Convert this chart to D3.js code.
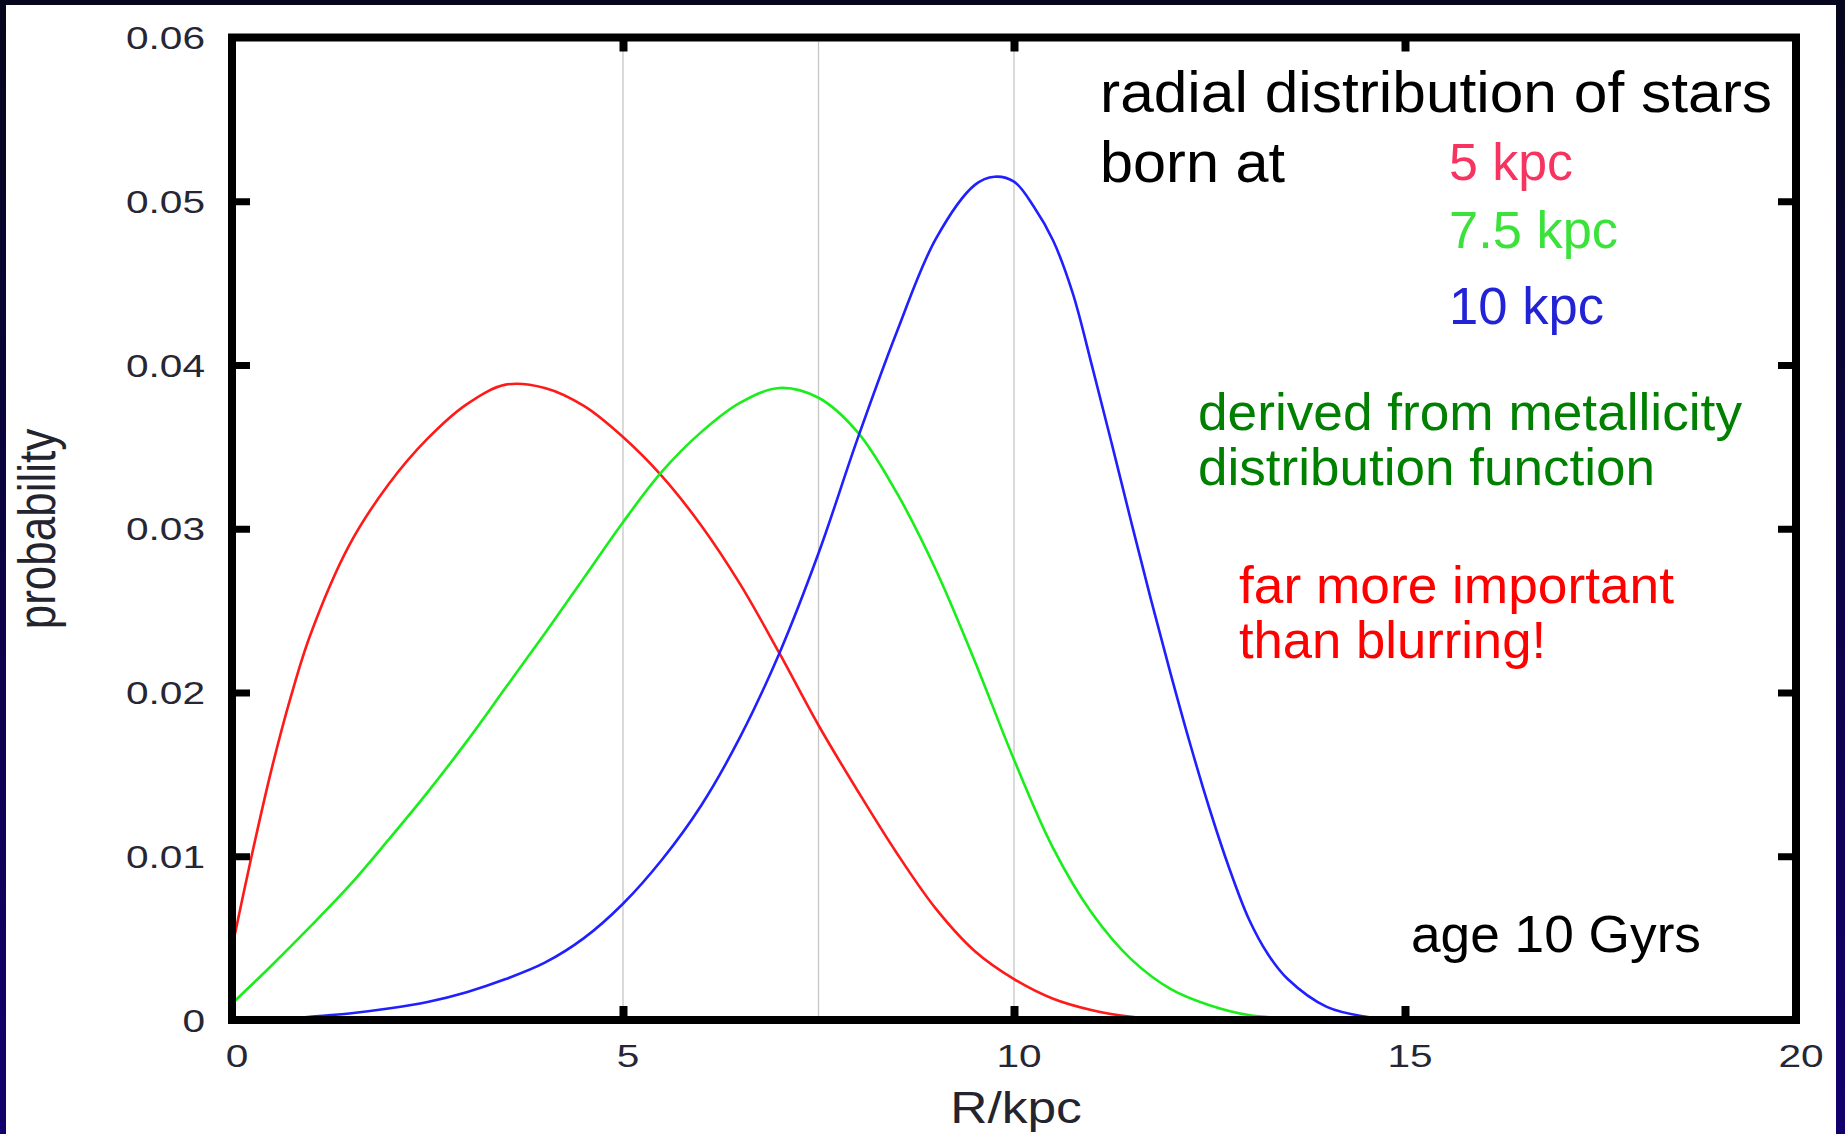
<!DOCTYPE html>
<html>
<head>
<meta charset="utf-8">
<script src="https://cdn.jsdelivr.net/npm/d3@7"></script>
<style>
  html, body { margin: 0; padding: 0; background: #ffffff; }
  svg { display: block; }
  text { font-family: "Liberation Sans", Arial, sans-serif; }
</style>
</head>
<body>
<svg id="chart" width="1845" height="1134"></svg>
<script>
// Radial distribution (probability per kpc) of stars born at 5, 7.5 and 10 kpc, age 10 Gyr
const redR   = [0, 0.25, 0.5, 0.75, 1, 1.5, 2, 2.5, 3, 3.5, 4, 4.5, 5, 5.5, 6, 6.5, 7, 7.5, 8, 8.5, 9, 9.5, 10, 10.5, 11, 11.5, 12, 12.5, 13];
const redP   = [0.0044, 0.0100, 0.0152, 0.0197, 0.0235, 0.0290, 0.0327, 0.0355, 0.0376, 0.0388, 0.0386, 0.0375, 0.0356, 0.0332, 0.0302, 0.0266, 0.0224, 0.0180, 0.0140, 0.0102, 0.0068, 0.0042, 0.0025, 0.0013, 0.0006, 0.0002, 0.00005, 0, 0];

const greenR = [0, 0.5, 1, 1.5, 2, 2.5, 3, 3.5, 4, 4.5, 5, 5.5, 6, 6.5, 7, 7.5, 8, 8.5, 9, 9.5, 10, 10.5, 11, 11.5, 12, 12.5, 13, 13.5, 14];
const greenP = [0.0010, 0.0033, 0.0057, 0.0082, 0.0110, 0.0139, 0.0170, 0.0203, 0.0236, 0.0270, 0.0304, 0.0335, 0.0359, 0.0377, 0.0386, 0.0380, 0.0359, 0.0322, 0.0275, 0.0219, 0.0159, 0.0105, 0.0065, 0.0037, 0.0019, 0.0009, 0.0003, 0.0001, 0];

const blueR  = [0, 0.5, 1, 1.5, 2, 2.5, 3, 3.5, 4, 4.5, 5, 5.5, 6, 6.5, 7, 7.5, 8, 8.5, 9, 9.5, 9.75, 10, 10.25, 10.5, 10.75, 11, 11.25, 11.5, 11.75, 12, 12.25, 12.5, 12.75, 13, 13.25, 13.5, 14, 14.5, 15];
const blueP  = [0, 0, 0.0002, 0.0004, 0.0007, 0.0011, 0.0017, 0.0025, 0.0035, 0.0050, 0.0071, 0.0098, 0.0131, 0.0173, 0.0224, 0.0285, 0.0355, 0.0420, 0.0477, 0.0510, 0.0515, 0.0512, 0.0497, 0.0476, 0.0444, 0.0399, 0.0352, 0.0304, 0.0257, 0.0212, 0.0169, 0.0129, 0.0093, 0.0062, 0.0040, 0.0025, 0.0008, 0.0002, 0];

// axis ticks and the birth radii marked by vertical guide lines
const xTicks = [0, 5, 10, 15, 20];
const xTickLabels = ["0", "5", "10", "15", "20"];
const yTicks = [0, 0.01, 0.02, 0.03, 0.04, 0.05, 0.06];
const yTickLabels = ["0", "0.01", "0.02", "0.03", "0.04", "0.05", "0.06"];
const birthRadii = [5, 7.5, 10];

const series = [
  { r: redR,   p: redP,   color: "#ff1a1a" },
  { r: greenR, p: greenP, color: "#1aee1a" },
  { r: blueR,  p: blueP,  color: "#2020ff" }
];

const W = 1845, H = 1134;
const plot = { left: 232, right: 1796, top: 37.5, bottom: 1020 };
const stretch = 1.27; // gnuplot text is drawn horizontally widened

const svg = d3.select("#chart");

// page frame bands
const defs = svg.append("defs");
const grad = defs.append("linearGradient").attr("id", "band")
  .attr("x1", 0).attr("y1", 0).attr("x2", 0).attr("y2", 1);
grad.append("stop").attr("offset", "0%").attr("stop-color", "#06061c");
grad.append("stop").attr("offset", "100%").attr("stop-color", "#13006e");
svg.append("rect").attr("x", 0).attr("y", 0).attr("width", W).attr("height", H).attr("fill", "#fff");
svg.append("rect").attr("x", 0).attr("y", 0).attr("width", 6).attr("height", H).attr("fill", "url(#band)");
svg.append("rect").attr("x", 1836).attr("y", 0).attr("width", 9).attr("height", H).attr("fill", "url(#band)");
svg.append("rect").attr("x", 0).attr("y", 0).attr("width", W).attr("height", 5).attr("fill", "#06061c");

defs.append("clipPath").attr("id", "plotclip").append("rect")
  .attr("x", plot.left).attr("y", plot.top)
  .attr("width", plot.right - plot.left).attr("height", plot.bottom - plot.top);

const x = d3.scaleLinear().domain([0, 20]).range([plot.left, plot.right]);
const y = d3.scaleLinear().domain([0, 0.06]).range([plot.bottom, plot.top]);

// vertical guide lines at the birth radii
svg.append("g").selectAll("line").data(birthRadii).join("line")
  .attr("x1", d => x(d)).attr("x2", d => x(d))
  .attr("y1", plot.top + 4).attr("y2", plot.bottom - 4)
  .attr("stroke", "#c6c6c6").attr("stroke-width", 1.3);

// curves
const line = d3.line().x(d => x(d[0])).y(d => y(d[1])).curve(d3.curveCatmullRom.alpha(0.5));
svg.append("g").attr("clip-path", "url(#plotclip)")
  .selectAll("path").data(series).join("path")
  .attr("d", s => line(s.r.map((r, i) => [r, s.p[i]])))
  .attr("fill", "none").attr("stroke", s => s.color).attr("stroke-width", 2.6)
  .attr("stroke-linejoin", "round");

// inward ticks on all four sides
function styleAxis(g) {
  g.select(".domain").remove();
  g.selectAll(".tick line").attr("stroke", "#000");
  g.selectAll(".tick text").remove();
}
const innerX = xTicks.filter(d => d > 0 && d < 20);
const innerY = yTicks.filter(d => d > 0 && d < 0.06);
svg.append("g").attr("transform", `translate(0,${plot.bottom})`)
  .call(d3.axisBottom(x).tickValues(innerX).tickSize(-14))
  .call(styleAxis).selectAll(".tick line").attr("stroke-width", 8);
svg.append("g").attr("transform", `translate(0,${plot.top})`)
  .call(d3.axisTop(x).tickValues(innerX).tickSize(-14))
  .call(styleAxis).selectAll(".tick line").attr("stroke-width", 8);
svg.append("g").attr("transform", `translate(${plot.left},0)`)
  .call(d3.axisLeft(y).tickValues(innerY).tickSize(-18))
  .call(styleAxis).selectAll(".tick line").attr("stroke-width", 7);
svg.append("g").attr("transform", `translate(${plot.right},0)`)
  .call(d3.axisRight(y).tickValues(innerY).tickSize(-18))
  .call(styleAxis).selectAll(".tick line").attr("stroke-width", 7);

// plot border
svg.append("rect")
  .attr("x", plot.left).attr("y", plot.top)
  .attr("width", plot.right - plot.left).attr("height", plot.bottom - plot.top)
  .attr("fill", "none").attr("stroke", "#000").attr("stroke-width", 8);

// tick labels
svg.append("g").selectAll("text").data(yTicks).join("text")
  .attr("transform", d => `translate(205,${y(d) + 11.5}) scale(${stretch},1)`)
  .attr("text-anchor", "end").attr("font-size", 32).attr("fill", "#262634")
  .text((d, i) => yTickLabels[i]);
svg.append("g").selectAll("text").data(xTicks).join("text")
  .attr("transform", d => `translate(${x(d) + 5},1067) scale(${stretch},1)`)
  .attr("text-anchor", "middle").attr("font-size", 32).attr("fill", "#262634")
  .text((d, i) => xTickLabels[i]);

// axis titles
svg.append("text")
  .attr("transform", `translate(1016,1123) scale(1.17,1)`)
  .attr("text-anchor", "middle").attr("font-size", 44).attr("fill", "#24242f")
  .text("R/kpc");
svg.append("text")
  .attr("transform", `translate(55,529) scale(1.18,1) rotate(-90)`)
  .attr("text-anchor", "middle").attr("font-size", 44).attr("fill", "#24242f")
  .text("probability");

// annotations
const notes = [
  { t: "radial distribution of stars", x: 1100, y: 112, s: 57, c: "#000000", w: 672 },
  { t: "born at",                      x: 1100, y: 182, s: 57, c: "#000000", w: 185 },
  { t: "5 kpc",                        x: 1449, y: 180, s: 51, c: "#f7335f", w: 124 },
  { t: "7.5 kpc",                      x: 1449, y: 248, s: 51, c: "#3ae23a", w: 169 },
  { t: "10 kpc",                       x: 1449, y: 324, s: 51, c: "#2222d6", w: 155 },
  { t: "derived from metallicity",     x: 1198, y: 430, s: 52, c: "#008000", w: 544 },
  { t: "distribution function",        x: 1198, y: 485, s: 52, c: "#008000", w: 457 },
  { t: "far more important",           x: 1239, y: 603, s: 52, c: "#ff0000", w: 435 },
  { t: "than blurring!",               x: 1239, y: 658, s: 52, c: "#ff0000", w: 307 },
  { t: "age 10 Gyrs",                  x: 1411, y: 952, s: 52, c: "#000000", w: 290 }
];
svg.append("g").selectAll("text").data(notes).join("text")
  .attr("x", d => d.x).attr("y", d => d.y)
  .attr("font-size", d => d.s).attr("fill", d => d.c)
  .attr("textLength", d => d.w).attr("lengthAdjust", "spacingAndGlyphs")
  .text(d => d.t);
</script>
</body>
</html>
